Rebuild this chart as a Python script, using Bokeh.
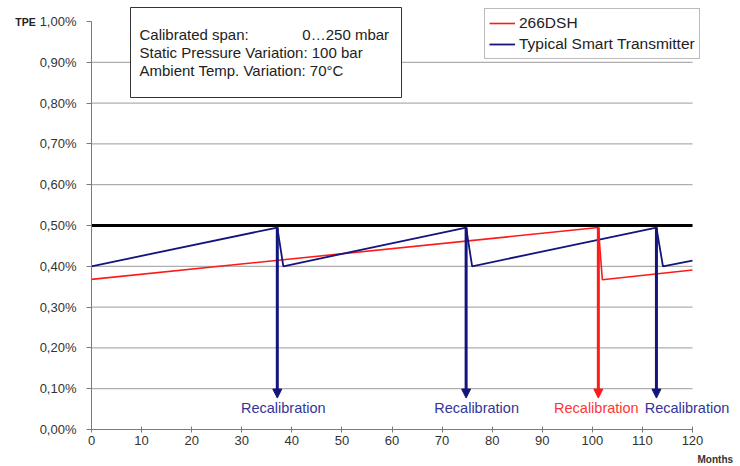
from bokeh.plotting import figure
from bokeh.models import (Range1d, FixedTicker, Label, BoxAnnotation, Arrow,
                          NormalHead, Legend, LegendItem)
from bokeh.embed import file_html
from bokeh.resources import INLINE

# ---- data ----
x_ticks = [0, 10, 20, 30, 40, 50, 60, 70, 80, 90, 100, 110, 120]
y_ticks = [0.0, 0.1, 0.2, 0.3, 0.4, 0.5, 0.6, 0.7, 0.8, 0.9, 1.0]
y_labels = ["0,00%", "0,10%", "0,20%", "0,30%", "0,40%", "0,50%",
            "0,60%", "0,70%", "0,80%", "0,90%", "1,00%"]

months_266 = [0, 101.2, 102.0, 120]
tpe_266 = [0.368, 0.495, 0.367, 0.391]

months_sst = [0, 37.1, 38.3, 74.8, 76.0, 112.8, 114.1, 120]
tpe_sst = [0.400, 0.495, 0.400, 0.495, 0.400, 0.495, 0.400, 0.414]

limit_tpe = 0.50

recal_months = [37.1, 74.8, 101.2, 112.8]
recal_series = ["sst", "sst", "266", "sst"]
recal_label_x = [38.3, 76.9, 100.8, 118.9]
recal_top = 0.495
recal_tip = 0.077
recal_label_y = 0.0515

info_lines = ["Calibrated span:", "Static Pressure Variation: 100 bar",
              "Ambient Temp. Variation:  70°C"]
info_span_value = "0…250 mbar"

RED = "#ff1a1a"
BLUE = "#14147f"
RED_TXT = "#ff3535"
BLUE_TXT = "#34349a"
FONT = "Liberation Sans"

W, H = 740, 466
# plot area: month 0 at px 91, month 120 at px 692; 0% at py 429, 1% at py 21
px_per_month = (692 - 91) / 120.0
px_per_pct = (429 - 21) / 1.0
x_range = Range1d(-91 / px_per_month, (W - 91) / px_per_month)
y_range = Range1d(-(H - 429) / px_per_pct, 429 / px_per_pct)

p = figure(width=W, height=H, output_backend="svg", toolbar_location=None,
           x_range=x_range, y_range=y_range)
p.min_border = 0
p.title.visible = False
p.outline_line_color = None
p.background_fill_color = "white"
p.border_fill_color = "white"

# axes, pinned to the data origin
p.xaxis.ticker = FixedTicker(ticks=x_ticks)
p.yaxis.ticker = FixedTicker(ticks=y_ticks)
p.yaxis.major_label_overrides = {t: l for t, l in zip(y_ticks, y_labels)}
p.xaxis.fixed_location = y_ticks[0]
p.yaxis.fixed_location = x_ticks[0]
p.xaxis.bounds = (x_ticks[0], x_ticks[-1])
p.yaxis.bounds = (y_ticks[0], y_ticks[-1])
for ax in (p.xaxis, p.yaxis):
    ax.axis_line_color = "#7a7a7a"
    ax.major_tick_line_color = "#7a7a7a"
    ax.minor_tick_line_color = None
    ax.major_label_text_font = FONT
    ax.major_label_text_font_size = "13px"
    ax.major_label_text_color = "#333333"
p.xaxis.major_tick_in = 3
p.xaxis.major_tick_out = 3
p.xaxis.major_label_standoff = 3
p.yaxis.major_tick_in = 0
p.yaxis.major_tick_out = 5
p.yaxis.major_label_standoff = 10

p.xgrid.visible = False
p.ygrid.visible = False
# horizontal grid lines limited to the month span
grid_y = y_ticks[1:-1]
p.segment(x0=[x_ticks[0]] * len(grid_y), x1=[x_ticks[-1]] * len(grid_y),
          y0=grid_y, y1=grid_y, line_color="#9a9a9a", line_width=1)

# limit line
p.line([x_ticks[0], x_ticks[-1]], [limit_tpe, limit_tpe], line_color="black",
       line_width=3)

# series
r266 = p.line(months_266, tpe_266, line_color=RED, line_width=1.6)
rsst = p.line(months_sst, tpe_sst, line_color=BLUE, line_width=1.8)

# recalibration arrows and labels
for m, s, lx in zip(recal_months, recal_series, recal_label_x):
    c = RED if s == "266" else BLUE
    tc = RED_TXT if s == "266" else BLUE_TXT
    p.add_layout(Arrow(end=NormalHead(size=9, fill_color=c, line_color=c, line_width=1),
                       x_start=m, y_start=recal_top, x_end=m, y_end=recal_tip,
                       line_color=c, line_width=3))
    p.add_layout(Label(x=lx, y=recal_label_y, text="Recalibration",
                       text_align="center", text_baseline="middle",
                       text_font=FONT, text_font_size="14.5px", text_color=tc))

# info box
p.add_layout(BoxAnnotation(left=7.79, right=61.9, bottom=0.8137, top=1.0343,
                           fill_color="white", fill_alpha=1.0,
                           line_color="#333333", line_width=1, line_alpha=1.0))
for i, t in enumerate(info_lines):
    p.add_layout(Label(x=9.58, y=0.9681 - i * 0.0441, text=t, text_align="left",
                       text_baseline="middle", text_font=FONT,
                       text_font_size="15px", text_color="#222222"))
p.add_layout(Label(x=42.1, y=0.9681, text=info_span_value, text_align="left",
                   text_baseline="middle", text_font=FONT,
                   text_font_size="15px", text_color="#222222"))

# axis captions
p.add_layout(Label(x=-15.2, y=1.0, text="TPE", text_align="left",
                   text_baseline="middle", text_font=FONT,
                   text_font_size="10.5px", text_font_style="bold",
                   text_color="#222222"))
p.add_layout(Label(x=121.0, y=-0.0725, text="Months", text_align="left",
                   text_baseline="middle", text_font=FONT,
                   text_font_size="10px", text_font_style="bold",
                   text_color="#333333"))

# legend
legend = Legend(items=[LegendItem(label="266DSH", renderers=[r266]),
                       LegendItem(label="Typical Smart Transmitter", renderers=[rsst])],
                location=(484, H - 59), orientation="vertical",
                label_text_font=FONT, label_text_font_size="15.5px",
                label_text_color="#222222", label_height=20, glyph_height=20,
                glyph_width=26, label_standoff=4, spacing=1, padding=4, margin=0,
                border_line_color="#777777", border_line_width=1,
                background_fill_color="white", background_fill_alpha=1.0)
p.add_layout(legend, "center")

open("out.html", "w").write(file_html(p, INLINE))
